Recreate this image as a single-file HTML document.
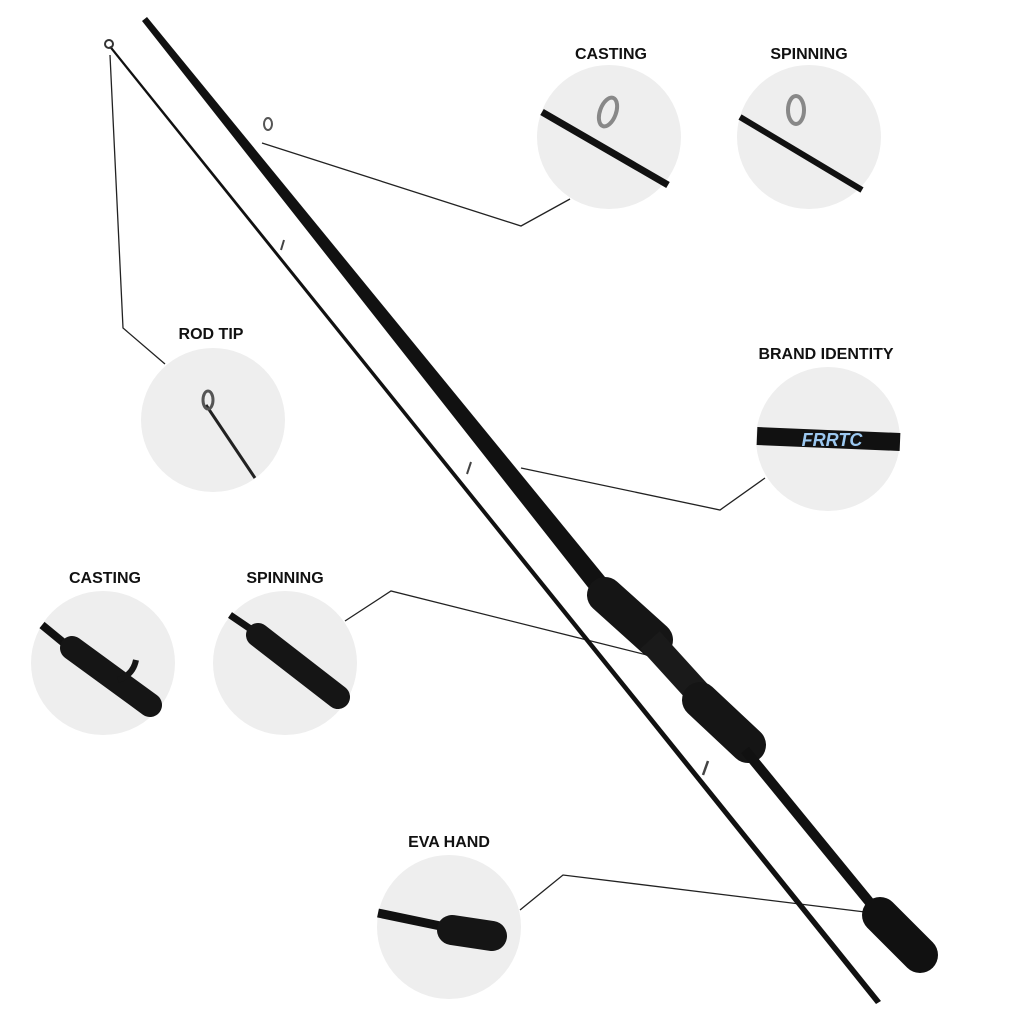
<!DOCTYPE html>
<html><head><meta charset="utf-8"><style>
html,body{margin:0;padding:0;background:#fff;}
svg{display:block}
text{font-family:"Liberation Sans",sans-serif;font-weight:bold;font-size:16px;fill:#111;text-anchor:middle}
</style></head><body>
<svg width="1024" height="1024" viewBox="0 0 1024 1024" xmlns="http://www.w3.org/2000/svg">
<g fill="#eeeeee">
<circle cx="609" cy="137" r="72"/>
<circle cx="809" cy="137" r="72"/>
<circle cx="213" cy="420" r="72"/>
<circle cx="828" cy="439" r="72"/>
<circle cx="103" cy="663" r="72"/>
<circle cx="285" cy="663" r="72"/>
<circle cx="449" cy="927" r="72"/>
</g>
<text x="611" y="59">CASTING</text>
<text x="809" y="59">SPINNING</text>
<text x="211" y="339">ROD TIP</text>
<text x="826" y="359">BRAND IDENTITY</text>
<text x="105" y="583">CASTING</text>
<text x="285" y="583">SPINNING</text>
<text x="449" y="847">EVA HAND</text>
<g stroke="#222" stroke-width="1.3" fill="none">
<polyline points="262,143 521,226 570,199"/>
<polyline points="110,55 123,328 165,364"/>
<polyline points="521,468 720,510 765,478"/>
<polyline points="345,621 391,591 655,657"/>
<polyline points="520,910 563,875 865,912"/>
</g>
<!-- thin rod tapered -->
<polygon points="109,47 111,46 881,1001 876,1004" fill="#111"/>
<circle cx="109" cy="44" r="4" fill="none" stroke="#333" stroke-width="2"/>
<path d="M281,250 l3,-10" stroke="#444" stroke-width="2"/>
<path d="M467,474 l4,-12" stroke="#444" stroke-width="2"/>
<path d="M703,775 l5,-14" stroke="#444" stroke-width="2.5"/>
<!-- thick rod -->
<polygon points="142,21 147,17 614,588 598,600" fill="#111"/>
<ellipse cx="268" cy="124" rx="4" ry="6" fill="none" stroke="#555" stroke-width="2"/>
<line x1="605" y1="595" x2="655" y2="640" stroke="#151515" stroke-width="36" stroke-linecap="round"/>
<line x1="650" y1="640" x2="700" y2="695" stroke="#1a1a1a" stroke-width="26"/>
<line x1="700" y1="700" x2="748" y2="745" stroke="#151515" stroke-width="36" stroke-linecap="round"/>
<line x1="745" y1="750" x2="880" y2="915" stroke="#111" stroke-width="10"/>
<line x1="880" y1="915" x2="920" y2="955" stroke="#111" stroke-width="36" stroke-linecap="round"/>
<!-- insets -->
<line x1="542" y1="112" x2="668" y2="185" stroke="#111" stroke-width="7"/>
<ellipse cx="608" cy="112" rx="8" ry="15" fill="none" stroke="#888" stroke-width="4" transform="rotate(20 608 112)"/>
<line x1="740" y1="117" x2="862" y2="190" stroke="#111" stroke-width="6"/>
<ellipse cx="796" cy="110" rx="8" ry="14" fill="none" stroke="#888" stroke-width="4"/>
<line x1="206" y1="405" x2="255" y2="478" stroke="#222" stroke-width="3"/>
<ellipse cx="208" cy="400" rx="5" ry="9" fill="none" stroke="#555" stroke-width="3"/>
<line x1="757" y1="436" x2="900" y2="442" stroke="#111" stroke-width="18"/>
<text x="832" y="446" style="font-size:18px;fill:#9cc8f0;font-style:italic">FRRTC</text>
<line x1="42" y1="625" x2="70" y2="648" stroke="#111" stroke-width="8"/>
<line x1="72" y1="648" x2="150" y2="705" stroke="#151515" stroke-width="24" stroke-linecap="round"/>
<path d="M118,680 q15,-5 18,-20" stroke="#151515" stroke-width="6" fill="none"/>
<line x1="230" y1="615" x2="255" y2="632" stroke="#111" stroke-width="7"/>
<line x1="258" y1="635" x2="338" y2="697" stroke="#151515" stroke-width="24" stroke-linecap="round"/>
<line x1="378" y1="913" x2="450" y2="928" stroke="#111" stroke-width="9"/>
<line x1="452" y1="930" x2="492" y2="936" stroke="#151515" stroke-width="30" stroke-linecap="round"/>
</svg>
</body></html>
